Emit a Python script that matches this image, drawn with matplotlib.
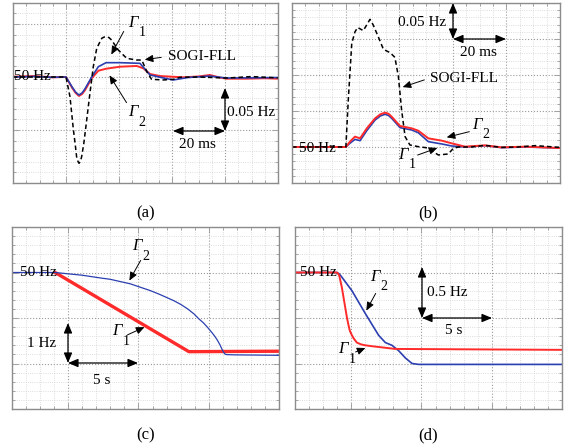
import matplotlib
matplotlib.use("Agg")
import matplotlib.pyplot as plt
from matplotlib.ticker import MultipleLocator

plt.rcParams['font.family'] = ['Liberation Serif', 'DejaVu Serif']

W, H = 568, 448

# (a) frequency step response, t in ms, df in Hz (relative to 50 Hz)
a_red_t = [0, 8, 15, 20, 22.2, 23.6, 24.9, 26.1, 27.2, 29.7, 32.2, 35.1, 40.4, 46.7, 49.2, 51.7, 55.5, 64.2, 70, 74.3, 78, 80.6, 88.2, 95, 100]
a_red_f = [0.0003, 0.0009, -0.0003, 0, -0.0097, -0.0150, -0.0179, -0.0160, -0.0123, -0.0012, 0.0059, 0.0078, 0.0097, 0.0104, 0.0082, 0.0028, 0.0009, -0.0003, 0.0005, 0.0019, -0.0005, -0.0016, -0.0016, -0.0012, -0.0016]
a_blue_t = [0, 8, 15, 20, 22.2, 23.6, 24.9, 26.1, 27.2, 29.7, 32.2, 35.1, 40.4, 47.9, 51.7, 56.7, 60.5, 66, 74.3, 80.6, 90, 100]
a_blue_f = [0, 0.0005, -0.0003, 0, -0.0090, -0.0142, -0.0170, -0.0150, -0.0110, 0.0, 0.0097, 0.0135, 0.0135, 0.0129, 0.0019, -0.0009, -0.0028, -0.0005, 0.0009, -0.0010, -0.0008, -0.0005]
a_sogi_t = [0, 20, 21.5, 22.8, 23.5, 24.0, 24.5, 24.9, 25.4, 25.9, 26.7, 27.5, 29.1, 30.3, 31.6, 33.5, 34.3, 35.1, 36.2, 37.2, 39.7, 42.9, 46.7, 48.6, 50.5, 52.3, 56.7, 60.5, 63, 70, 80.6, 90, 100]
a_sogi_f = [0, 0, -0.0186, -0.050, -0.064, -0.0752, -0.0795, -0.0814, -0.0800, -0.0752, -0.0630, -0.0469, -0.0139, 0.0097, 0.0271, 0.0365, 0.0376, 0.038, 0.0372, 0.0349, 0.0255, 0.0176, 0.016, 0.016, 0.005, -0.0022, -0.0028, -0.0022, -0.0003, 0, -0.0010, 0.0004, -0.0008]

# (b)
b_t = [0, 20.1, 21.6, 23.5, 25.4, 27.9, 31.0, 33.0, 34.7, 36.0, 37.2, 40.3, 44.7, 47.1, 50.9, 55.9, 59.6, 64.6, 72.0, 78.2, 86.9, 100]
b_red_f = [0, 0, 0.0074, 0.0144, 0.012, 0.0259, 0.0398, 0.0455, 0.0477, 0.0462, 0.0421, 0.0292, 0.0259, 0.0227, 0.012, 0.0088, 0.0051, 0.0005, 0.0023, -0.0005, 0.0005, -0.0014]
b_blue_f = [0, 0, 0.0051, 0.0106, 0.0088, 0.0227, 0.0375, 0.0432, 0.0454, 0.0438, 0.0398, 0.0269, 0.0236, 0.0199, 0.0074, 0.0042, 0.0014, 0, 0.0019, -0.0009, 0, -0.0014]
b_sogi_t = [0, 20.1, 21.0, 22.3, 23.5, 24.5, 26.6, 29.1, 30.3, 32.2, 34.1, 36.6, 38.4, 39.7, 40.9, 42.2, 44.0, 47.1, 50.9, 52.7, 54.6, 58.3, 60.2, 62.1, 67.0, 71.9, 78.2, 84.4, 90.7, 100]
b_sogi_f = [0, 0, 0.0653, 0.144, 0.160, 0.166, 0.1616, 0.1773, 0.1695, 0.153, 0.1357, 0.131, 0.1245, 0.0977, 0.0514, 0.0144, 0.0028, 0.0005, -0.0014, -0.0065, -0.0111, -0.0097, -0.0019, 0, 0, 0.0023, -0.0005, 0, 0.0019, -0.0005]

# (c) ramp, t in s, f in Hz
c_blue_t = [-4, -0.93, 0.02, 1.0, 2.29, 3.0, 4.43, 5.0, 5.86, 6.5, 7.52, 8.0, 8.5, 8.95, 9.3, 9.6, 9.9, 10.2, 10.45, 10.62, 10.8, 10.98, 11.05, 11.15, 11.21, 11.3, 11.81, 15]
c_blue_f = [50, 50, 49.97, 49.94, 49.88, 49.85, 49.75, 49.69, 49.60, 49.52, 49.38, 49.30, 49.20, 49.09, 48.98, 48.90, 48.80, 48.69, 48.59, 48.51, 48.41, 48.29, 48.25, 48.21, 48.20, 48.195, 48.19, 48.18]
c_red_t = [-0.93, 8.59, 15]
c_red_f = [50, 48.26, 48.27]

# (d)
d_red_t = [-4, -1.02, -0.95, -0.86, -0.8, -0.67, -0.55, -0.43, -0.3, -0.19, -0.1, 0.05, 0.2, 0.40, 0.7, 1.0, 1.48, 3.14, 15]
d_red_f = [50, 50, 49.99, 49.97, 49.93, 49.84, 49.73, 49.62, 49.50, 49.42, 49.36, 49.31, 49.27, 49.23, 49.21, 49.20, 49.19, 49.16, 49.15]
d_blue_t = [-4, -1.02, -0.85, -0.67, 0.05, 1.0, 1.95, 2.43, 2.9, 3.38, 3.86, 4.33, 4.81, 15]
d_blue_f = [50, 50, 49.985, 49.95, 49.80, 49.55, 49.31, 49.23, 49.20, 49.14, 49.06, 49.00, 48.99, 48.99]

RED = '#ff2a2a'
BLUE = '#2b3fb0'

fig = plt.figure(figsize=(W / 100, H / 100), dpi=100)


def P(x, y):
    return (x / W, 1 - y / H)


def scope_axes(x0, y0, x1, y1, xlim, ylim, xmaj, xmin, ymaj, ymin):
    ax = fig.add_axes([x0 / W, 1 - y1 / H, (x1 - x0) / W, (y1 - y0) / H])
    ax.set_xlim(*xlim)
    ax.set_ylim(*ylim)
    ax.xaxis.set_major_locator(MultipleLocator(xmaj))
    ax.xaxis.set_minor_locator(MultipleLocator(xmin))
    ax.yaxis.set_major_locator(MultipleLocator(ymaj))
    ax.yaxis.set_minor_locator(MultipleLocator(ymin))
    ax.grid(which='major', ls=':', color='#9a9a9a', lw=0.8)
    ax.grid(which='minor', ls=':', color='#d2d2d2', lw=0.6)
    ax.tick_params(which='both', direction='in', top=True, right=True,
                   labelbottom=False, labelleft=False, color='#999999', width=0.6)
    ax.tick_params(which='major', length=4)
    ax.tick_params(which='minor', length=2.5)
    for s in ax.spines.values():
        s.set_color('#8c8c8c')
        s.set_linewidth(1.0)
    return ax


def txt(x, y, s, size=11, **kw):
    fig.text(*P(x, y), s, fontsize=size, ha='center', va='center', **kw)


def gamma(x, y, sub):
    fig.text(*P(x, y), 'Γ', fontsize=12, style='italic', ha='center', va='center')
    fig.text(*P(x + 9, y + 10), sub, fontsize=10, ha='center', va='center')


def arrow(x0, y0, x1, y1):
    fig.add_artist(matplotlib.patches.FancyArrowPatch(
        P(x0, y0), P(x1, y1), transform=fig.transFigure,
        arrowstyle='-|>,head_length=5,head_width=2.2', lw=0.7, color='k'))


def scale(x0, y0, x1, y1):
    fig.add_artist(matplotlib.patches.FancyArrowPatch(
        P(x0, y0), P(x1, y1), transform=fig.transFigure,
        arrowstyle='<|-|>,head_length=6,head_width=2.5', lw=0.9, color='k',
        shrinkA=0, shrinkB=0))


# (a)
ax = scope_axes(13, 3, 278, 183, (0, 100), (-0.1, 0.0698), 20, 5, 0.05, 0.01)
ax.plot(a_red_t, a_red_f, color=RED, lw=1.4)
ax.plot(a_blue_t, a_blue_f, color=BLUE, lw=1.2)
ax.plot(a_sogi_t, a_sogi_f, color='k', lw=1.1, ls=(0, (3, 2)))

# (b)
ax = scope_axes(292, 3, 560, 183, (0, 100), (-0.05, 0.2), 20, 5, 0.05, 0.01)
ax.plot(b_t, b_blue_f, color=BLUE, lw=1.2)
ax.plot(b_t, b_red_f, color=RED, lw=1.4)
ax.plot(b_sogi_t, b_sogi_f, color='k', lw=1.1, ls=(0, (3, 2)))

# (c)
ax = scope_axes(12, 227, 279, 409, (-4, 15), (47, 51), 5, 1, 1, 0.2)
ax.plot(c_red_t, c_red_f, color=RED, lw=2.4)
ax.plot(c_blue_t, c_blue_f, color=BLUE, lw=0.9)

# (d)
ax = scope_axes(295, 227, 562, 409, (-4, 15), (48.5, 50.5), 5, 1, 0.5, 0.1)
ax.plot(d_blue_t, d_blue_f, color=BLUE, lw=1.2)
ax.plot(d_red_t, d_red_f, color=RED, lw=1.4)

# annotations (a)
txt(32, 76, '50 Hz')
gamma(133, 23, '1')
arrow(125, 29, 110, 57)
txt(202, 57, 'SOGI-FLL')
arrow(164, 57, 142, 60)
gamma(133, 112, '2')
arrow(128, 105, 108, 73)
scale(225, 88, 225, 131)
scale(173, 131, 225, 131)
txt(251, 113, '0.05 Hz')
txt(197, 145, '20 ms')

# annotations (b)
txt(317, 148, '50 Hz')
scale(453, 3, 453, 39)
scale(453, 39, 506, 39)
txt(422, 22, '0.05 Hz')
txt(478, 52, '20 ms')
txt(464, 79, 'SOGI-FLL')
arrow(427, 79, 400, 88)
gamma(477, 125, '2')
arrow(472, 131, 444, 138)
gamma(403, 155, '1')
arrow(415, 156, 440, 147)

# annotations (c)
txt(38, 272, '50 Hz')
gamma(137, 246, '2')
arrow(142, 258, 128, 283)
gamma(117, 331, '1')
arrow(125, 336, 147, 326)
scale(68, 323, 68, 363)
scale(68, 363, 138, 363)
txt(42, 343, '1 Hz')
txt(102, 380, '5 s')

# annotations (d)
txt(318, 273, '50 Hz')
gamma(375, 277, '2')
arrow(377, 291, 365, 313)
gamma(343, 349, '1')
arrow(353, 353, 368, 347)
scale(422, 267, 422, 318)
scale(422, 318, 492, 318)
txt(447, 292, '0.5 Hz')
txt(454, 330, '5 s')

# panel labels
txt(146, 213, '(a)', size=12)
txt(428, 213, '(b)', size=12)
txt(146, 435, '(c)', size=12)
txt(428, 435, '(d)', size=12)

fig.savefig('out.png', dpi=100)
